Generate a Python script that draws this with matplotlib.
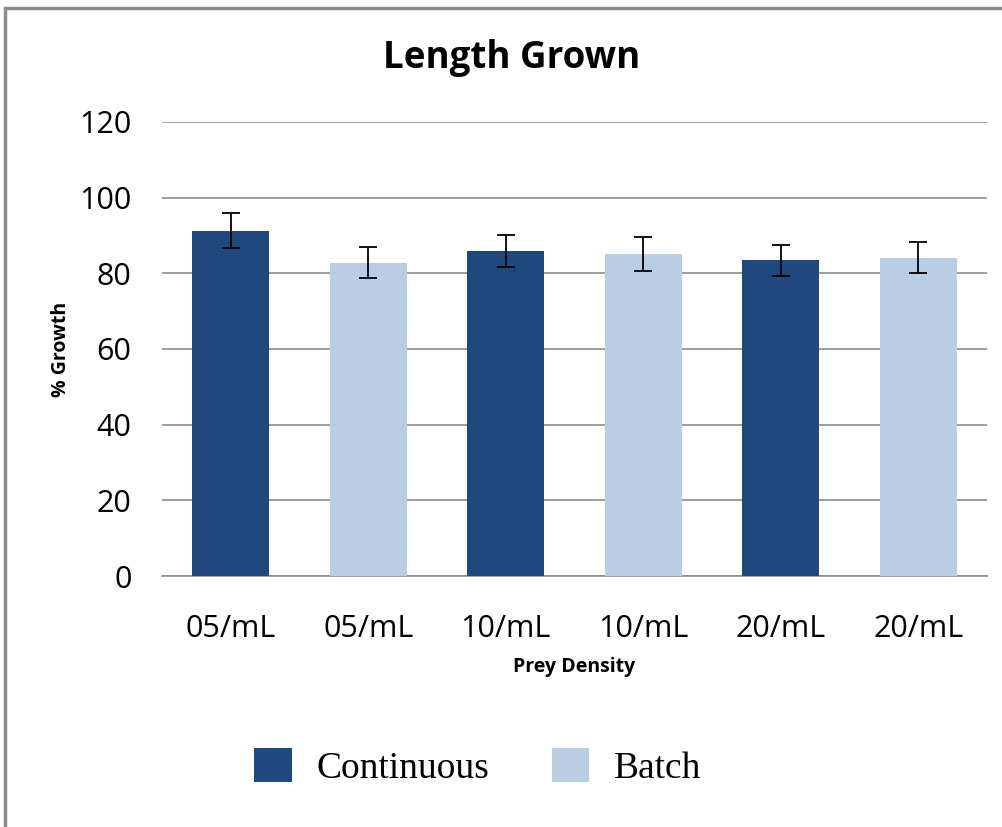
import numpy as np
import matplotlib
matplotlib.use("Agg")
import matplotlib.pyplot as plt
from matplotlib.patches import Patch, Rectangle

# data
categories = ["05/mL", "05/mL", "10/mL", "10/mL", "20/mL", "20/mL"]
growth = [91.3, 82.8, 86.0, 85.1, 83.4, 84.1]
errors = [4.6, 4.1, 4.2, 4.4, 4.2, 4.1]
groups = ["Continuous", "Batch", "Continuous", "Batch", "Continuous", "Batch"]
y_ticks = [0, 20, 40, 60, 80, 100, 120]

colours = {"Continuous": "#1F497D", "Batch": "#B9CDE5"}

plt.rcParams["font.family"] = ["Open Sans", "DejaVu Sans"]

fig = plt.figure(figsize=(10.02, 8.27), dpi=100)
ax = fig.add_axes([0.1617, 0.3035, 0.8233, 0.549])

x = np.arange(len(categories))
ax.bar(x, growth, width=0.56, color=[colours[g] for g in groups], zorder=3)
ax.errorbar(x, growth, yerr=errors, fmt="none", ecolor="black",
            elinewidth=1.3, capsize=6.5, capthick=1.3, zorder=4)

ax.set_xlim(-0.5, len(categories) - 0.5)
ax.set_ylim(0, 120)
ax.set_yticks(y_ticks)
ax.set_xticks(x)
ax.set_xticklabels(categories)
ax.tick_params(axis="both", length=0, labelsize=22, colors="black")
ax.tick_params(axis="x", pad=27)
ax.tick_params(axis="y", pad=22)
ax.grid(axis="y", color="#8C8C8C", linewidth=1.2, zorder=0)
for s in ["top", "left", "right"]:
    ax.spines[s].set_visible(False)
ax.spines["bottom"].set_color("#8C8C8C")
ax.spines["bottom"].set_linewidth(1.2)

ax.set_ylabel("% Growth", fontsize=14, fontweight="bold", labelpad=6)
ax.set_xlabel("Prey Density", fontsize=14, fontweight="bold", labelpad=10)
fig.text(0.511, 0.93, "Length Grown", ha="center", va="center",
         fontsize=26.5, fontweight="bold")

handles = [Patch(facecolor=colours["Continuous"], label="Continuous"),
           Patch(facecolor=colours["Batch"], label="Batch")]
fig.legend(handles=handles, loc="center", bbox_to_anchor=(0.477, 0.073),
           ncol=2, frameon=False, handlelength=1.0, handleheight=1.05,
           handletextpad=0.67, columnspacing=1.65,
           prop={"family": "Liberation Serif", "size": 27})

# outer chart border
fig.patches.append(Rectangle((0.005, -0.01), 1.2, 1.0, transform=fig.transFigure,
                             fill=False, edgecolor="#8C8C8C", linewidth=2.5))

fig.savefig("out.png", dpi=100)
